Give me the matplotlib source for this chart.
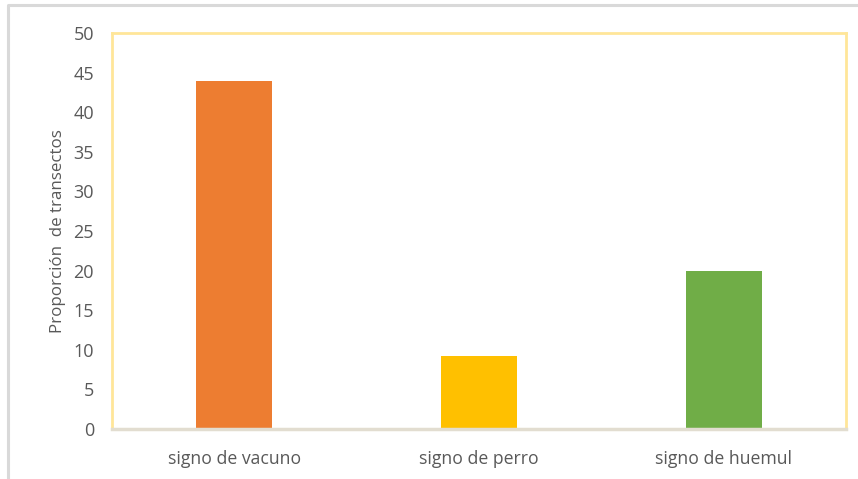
import matplotlib.pyplot as plt
from matplotlib.lines import Line2D

categorias = ['signo de vacuno', 'signo de perro', 'signo de huemul']
valores = [44, 9.2, 20]
colores = ['#ED7D31', '#FFC000', '#70AD47']

plt.rcParams['font.family'] = ['Open Sans', 'DejaVu Sans']

fig = plt.figure(figsize=(8.58, 4.79), dpi=100)
# marco exterior gris (solo borde superior e izquierdo visibles)
fig.lines.append(Line2D([8 / 858, 8 / 858, 1], [0, 1 - 5 / 479, 1 - 5 / 479],
                        transform=fig.transFigure, color='#D9D9D9', linewidth=2.2))

ax = fig.add_axes([112 / 858, 1 - 429 / 479, 734 / 858, 396 / 479])
ax.bar(range(len(categorias)), valores, width=0.31, color=colores, zorder=2)
ax.set_xlim(-0.5, 2.5)
ax.set_ylim(0, 50)
ax.set_yticks(range(0, 51, 5))
ax.set_xticks(range(len(categorias)))
ax.set_xticklabels(categorias)

for lado in ['top', 'left', 'right']:
    ax.spines[lado].set_color('#FFE699')
    ax.spines[lado].set_linewidth(2)
ax.spines['bottom'].set_color('#E2DDD0')
ax.spines['bottom'].set_linewidth(2.5)
ax.spines['bottom'].set_zorder(3)

ax.tick_params(axis='both', length=0, colors='#595959')
ax.tick_params(axis='y', pad=13, labelsize=13)
ax.tick_params(axis='x', pad=15, labelsize=12.7)
ax.set_ylabel('Proporción  de transectos', fontsize=12.2, color='#595959', labelpad=5)

fig.savefig('out.png', dpi=100)
